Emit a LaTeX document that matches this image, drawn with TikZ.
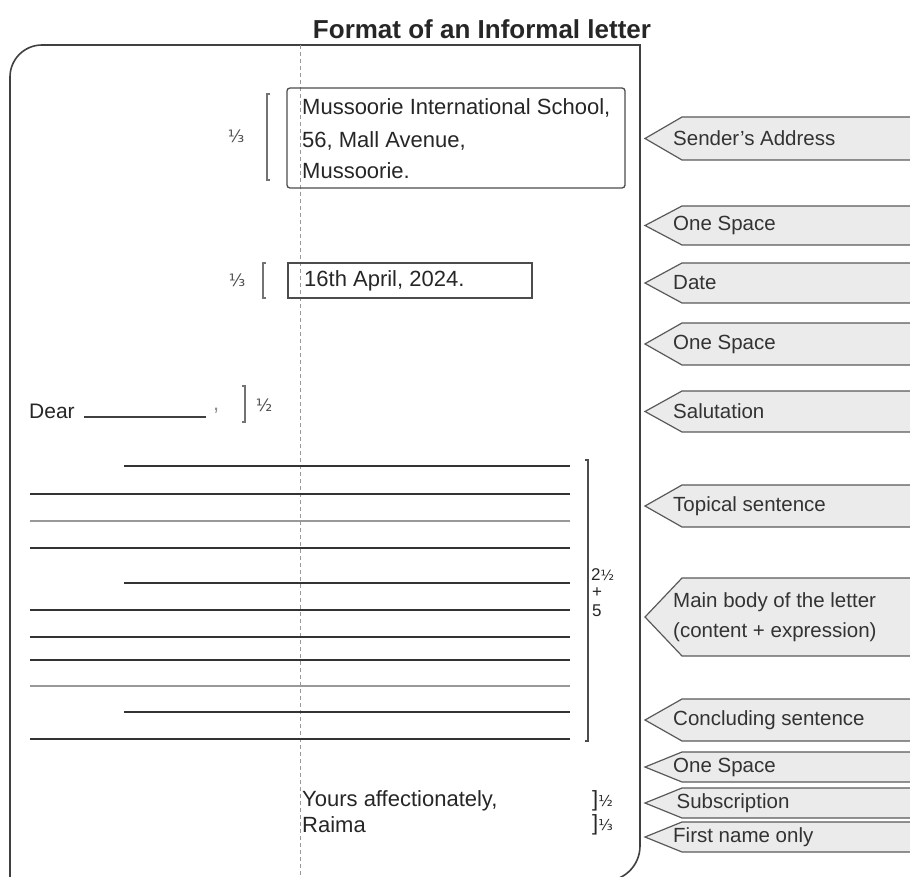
\documentclass[tikz,border=0pt]{standalone}
\usepackage{fontspec}
\setmainfont{Liberation Sans}
\newfontfamily\symfont{DejaVu Sans}
\begin{document}
\begin{tikzpicture}[x=1pt,y=-1pt,
  frame/.style={draw=black!75, line width=1.6pt},
  guide/.style={draw=black!40, dashed, dash pattern=on 4pt off 3pt, line width=0.8pt},
  infobox/.style={draw=black!70, line width=1.3pt},
  brk/.style={draw=black!55, line width=1.2pt},
  rule/.style={draw=black!80, line width=1.5pt},
  lightrule/.style={draw=black!40, line width=1.5pt},
  tagshape/.style={fill=black!8, draw=black!65, line width=1.2pt, line join=miter},
  tagtext/.style={font=\fontsize{20.5}{24}\selectfont, text=black!80, inner sep=0pt, anchor=west, align=left},
  ltext/.style={font=\fontsize{22}{26}\selectfont, text=black!85, inner sep=0pt, anchor=west, align=left},
  frac/.style={font=\symfont\fontsize{17}{19}\selectfont, text=black!70, inner sep=0pt},
  numtext/.style={font=\fontsize{17}{18}\selectfont, text=black!85, inner sep=0pt, anchor=west}
]
\useasboundingbox (0,0) rectangle (910,877);
\clip (0,0) rectangle (910,877);
\newcommand\tagat[4]{%
  \path[tagshape] (645,{(#1+#2)/2}) -- (682,#1) -- (940,#1) -- (940,#2) -- (682,#2) -- cycle;
  \node[tagtext] (#4) at (673,{(#1+#2)/2}) {#3};}

% title
\node[font=\bfseries\fontsize{26}{30}\selectfont, text=black!85] (title) at (482,29) {Format of an Informal letter};

% frame
\draw[frame] (10,900) -- (10,77) arc[start angle=180, end angle=270, radius=32] -- (640,45) -- (640,846) arc[start angle=0, end angle=90, radius=35];
\draw[guide] (300,45) -- (300,877);

% sender's address
\draw[infobox, rounded corners=3pt] (287,88) rectangle (625,188);
\node[ltext] (addr1) at (302,108) {Mussoorie International School,};
\node[ltext] (addr2) at (302,141) {56, Mall Avenue,};
\node[ltext] (addr3) at (302,171) {Mussoorie.};
\draw[brk] (270,94) -- (267,94) -- (267,180) -- (270,180);
\node[frac] (f1) at (236,136) {⅓};

% date
\draw[infobox] (288,263) rectangle (532,298);
\node[ltext] (date) at (304,281) {16th April, 2024.};
\draw[brk] (266,263) -- (263,263) -- (263,298) -- (266,298);
\node[frac] (f2) at (237,280) {⅓};

% salutation
\node[ltext, font=\fontsize{21}{25}\selectfont] (dear) at (29,411) {Dear};
\draw[draw=black!75, line width=1.3pt] (84,417) -- (206,417);
\node[ltext, text=black!45] (comma) at (213,411) {,};
\draw[brk] (242,386) -- (245,386) -- (245,422) -- (242,422);
\node[frac] (f3) at (264,405) {½};

% body lines
\draw[rule] (124,466) -- (570,466);
\draw[rule] (30,494) -- (570,494);
\draw[lightrule] (30,521) -- (570,521);
\draw[rule] (30,548) -- (570,548);
\draw[rule, line width=1.2pt] (124,583) -- (570,583);
\draw[rule] (30,610) -- (570,610);
\draw[rule] (30,637) -- (570,637);
\draw[rule] (30,660) -- (570,660);
\draw[lightrule] (30,686) -- (570,686);
\draw[rule] (124,712) -- (570,712);
\draw[rule] (30,739) -- (570,739);
\draw[brk, draw=black!70] (585,460) -- (588,460) -- (588,741) -- (585,741);
\node[numtext] (n1) at (591,575) {2{\symfont\fontsize{14}{15}\selectfont ½}};
\node[numtext] (n2) at (592,593) {+};
\node[numtext] (n3) at (592,611) {5};

% closing
\node[ltext] (yours) at (302,801) {Yours affectionately,};
\node[ltext] (raima) at (302,825) {Raima};
\node[ltext] (f4) at (592,801) {]{\symfont\fontsize{15}{16}\selectfont ½}};
\node[ltext] (f5) at (592,825) {]{\symfont\fontsize{15}{16}\selectfont ⅓}};

% tags
\tagat{117}{160}{Sender's Address}{t1}
\tagat{206}{245}{One Space}{t2}
\tagat{263}{303}{Date}{t3}
\tagat{323}{365}{One Space}{t4}
\tagat{391}{432}{Salutation}{t5}
\tagat{485}{527}{Topical sentence}{t6}
\tagat{578}{656}{Main body of the letter\\[6pt](content + expression)}{t7}
\tagat{699}{741}{Concluding sentence}{t8}
\tagat{752}{782}{One Space}{t9}
\tagat{788}{818}{\,Subscription}{t10}
\tagat{822}{852}{First name only}{t11}
\end{tikzpicture}
\end{document}
